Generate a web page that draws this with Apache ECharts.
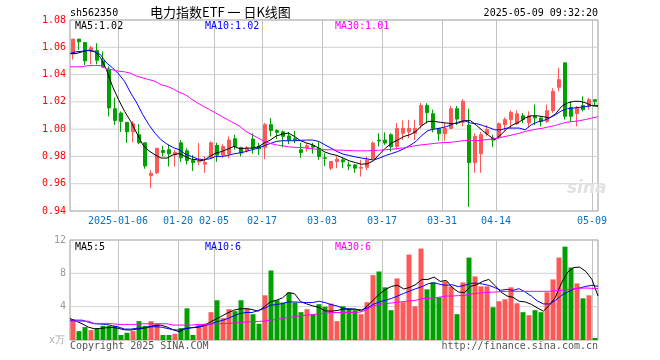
<!DOCTYPE html>
<html>
<head>
<meta charset="utf-8">
<script src="https://cdn.jsdelivr.net/npm/echarts/dist/echarts.min.js"></script>
<style>
html,body{margin:0;padding:0;background:#fff;}
#c{width:660px;height:360px;}
</style>
</head>
<body>
<div id="c"></div>
<script>
const dates = ['2024-12-24','2024-12-25','2024-12-26','2024-12-27','2024-12-30','2024-12-31','2025-01-02','2025-01-03',
'2025-01-06','2025-01-07','2025-01-08','2025-01-09','2025-01-10','2025-01-13','2025-01-14','2025-01-15','2025-01-16','2025-01-17',
'2025-01-20','2025-01-21','2025-01-22','2025-01-23','2025-01-24','2025-01-27',
'2025-02-05','2025-02-06','2025-02-07','2025-02-10','2025-02-11','2025-02-12','2025-02-13','2025-02-14',
'2025-02-17','2025-02-18','2025-02-19','2025-02-20','2025-02-21','2025-02-24','2025-02-25','2025-02-26','2025-02-27','2025-02-28',
'2025-03-03','2025-03-04','2025-03-05','2025-03-06','2025-03-07','2025-03-10','2025-03-11','2025-03-12','2025-03-13','2025-03-14',
'2025-03-17','2025-03-18','2025-03-19','2025-03-20','2025-03-21','2025-03-24','2025-03-25','2025-03-26','2025-03-27','2025-03-28',
'2025-03-31','2025-04-01','2025-04-02','2025-04-03','2025-04-07','2025-04-08','2025-04-09','2025-04-10','2025-04-11',
'2025-04-14','2025-04-15','2025-04-16','2025-04-17','2025-04-18','2025-04-21','2025-04-22','2025-04-23','2025-04-24','2025-04-25',
'2025-04-28','2025-04-29','2025-04-30','2025-05-06','2025-05-07','2025-05-08','2025-05-09'];

const openP = [1.055,1.066,1.0635,1.058,1.0576,1.050,1.044,1.015,1.0118,1.005,
0.998,0.9959,0.990,0.966,0.968,0.9843,0.9849,0.9812,0.990,0.9841,
0.977,0.976,0.9743,0.979,0.988,0.981,0.9817,0.993,0.9866,0.9843,
0.9927,0.9873,0.9866,1.0033,0.999,0.998,0.995,0.993,0.9849,0.9866,
0.988,0.986,0.979,0.9714,0.9763,0.9775,0.9738,0.9738,0.9714,0.9721,
0.978,0.992,0.992,0.9959,0.9873,0.997,0.998,0.997,1.003,1.0173,
1.0113,1.0005,0.9966,1.0005,1.015,1.005,1.003,0.9755,0.982,0.9966,
0.9935,0.994,1.0033,1.007,1.004,1.0098,1.0045,1.0094,1.0082,1.0057,
1.0135,1.0307,1.0486,1.016,1.0113,1.0173,1.0167,1.0216];
const closeP = [1.066,1.064,1.050,1.0596,1.0505,1.0457,1.0155,1.0064,1.0057,0.998,
1.004,0.990,0.973,0.9677,0.986,0.9828,0.9819,0.9829,0.979,0.977,
0.9755,0.9768,0.9755,0.990,0.981,0.9873,0.992,0.9873,0.9825,0.986,
0.986,0.9856,1.0033,0.999,0.9977,0.9947,0.992,0.992,0.9829,0.9878,
0.9868,0.980,0.9787,0.9763,0.978,0.976,0.973,0.9714,0.972,0.9775,
0.9898,0.9913,0.9898,0.9873,1.0005,1.0005,1.0005,1.0005,1.0173,1.012,
1.0005,0.9966,1.0005,1.015,1.0074,1.0204,0.9755,0.9947,0.9959,0.9995,
0.992,1.004,1.007,1.0123,1.0113,1.007,1.0098,1.0082,1.0057,1.0135,
1.0277,1.0363,1.0094,1.0094,1.016,1.0143,1.0216,1.0204];
const lowP = [1.051,1.058,1.047,1.0475,1.0475,1.045,1.0093,1.003,0.998,0.990,
0.9905,0.989,0.971,0.9567,0.967,0.980,0.9726,0.9726,0.976,0.974,
0.9694,0.9738,0.968,0.978,0.976,0.979,0.9787,0.9849,0.980,0.983,
0.982,0.981,0.978,0.9947,0.9927,0.9866,0.989,0.9898,0.979,0.9836,
0.982,0.9775,0.973,0.970,0.9714,0.9714,0.970,0.968,0.9652,0.970,
0.978,0.9873,0.9885,0.9836,0.9849,0.992,0.9934,0.992,1.0005,1.004,
0.9976,0.9915,0.9915,1.000,1.003,1.002,0.943,0.968,0.968,0.9947,
0.9868,0.993,0.999,1.0005,1.003,1.0045,1.0012,1.003,1.002,1.0045,
1.012,1.0277,1.007,1.006,1.002,1.013,1.0143,1.0167];
const highP = [1.066,1.066,1.064,1.061,1.063,1.057,1.046,1.023,1.013,1.005,
1.006,1.0037,0.990,0.970,0.986,0.9878,0.9885,0.9849,0.992,0.986,
0.981,0.9898,0.980,0.991,0.990,0.989,0.9947,0.9959,0.987,0.9875,
0.997,0.990,1.0045,1.008,1.000,0.999,0.998,0.9988,0.990,0.9898,
0.990,0.991,0.9824,0.9765,0.980,0.979,0.9763,0.9745,0.9775,0.980,
0.991,0.997,0.9976,0.997,1.0045,1.0064,1.0069,1.0069,1.0192,1.019,
1.0143,1.0005,1.0045,1.017,1.017,1.022,1.015,0.997,0.998,1.003,
0.9959,1.005,1.0086,1.0138,1.0138,1.0118,1.013,1.018,1.0085,1.018,
1.030,1.045,1.0486,1.0204,1.017,1.024,1.0229,1.0216];

const ma5 = [1.0554,1.0554,1.0567,1.0579,1.0571,1.0527,1.0437,1.0314,1.0216,1.013,
1.0057,0.9971,0.9885,0.9841,0.9812,0.9788,0.9788,0.9812,0.9821,0.980,
0.978,0.9775,0.9768,0.980,0.9824,0.9836,0.9854,0.9873,0.9856,0.9861,
0.9861,0.987,0.9898,0.992,0.995,0.9964,0.9971,0.9946,0.9915,0.9898,
0.9885,0.9861,0.9832,0.9817,0.9807,0.9788,0.9768,0.9755,0.9743,0.9746,
0.9768,0.9817,0.9861,0.9898,0.992,0.9946,0.9959,0.9983,1.0027,1.0057,
1.0057,1.005,1.0045,1.004,1.0045,1.0062,1.0062,1.0027,0.9988,0.9954,
0.9922,0.9959,1.0003,1.0032,1.0052,1.0082,1.0098,1.0098,1.0091,1.0082,
1.0111,1.0167,1.0192,1.0204,1.0204,1.0192,1.0172,1.0167];
const ma10 = [1.0554,1.0567,1.0571,1.0576,1.0567,1.0547,1.0486,1.045,1.0405,1.035,
1.0265,1.0192,1.0106,1.0032,0.9971,0.9922,0.989,0.9865,0.9849,0.9817,
0.980,0.9782,0.9777,0.9782,0.980,0.980,0.9807,0.9819,0.9826,0.9836,
0.9849,0.9861,0.9878,0.9895,0.991,0.9915,0.9915,0.9915,0.9918,0.992,
0.992,0.991,0.9885,0.9861,0.9836,0.9817,0.9807,0.9797,0.9788,0.9782,
0.9773,0.9788,0.9807,0.9821,0.9836,0.9856,0.988,0.991,0.9955,0.999,
1.0,1.0008,1.0018,1.0035,1.0052,1.0062,1.0045,1.004,1.0027,1.0012,
0.9995,0.9995,1.0008,1.0008,1.0008,0.9995,1.0032,1.0052,1.0062,1.0082,
1.0106,1.0135,1.015,1.0155,1.016,1.0165,1.0174,1.0174];
const ma30 = [1.0457,1.0457,1.0457,1.0466,1.0466,1.0466,1.0442,1.0435,1.0425,1.042,
1.041,1.0388,1.0376,1.0363,1.0351,1.0326,1.0314,1.0295,1.027,1.0253,
1.0221,1.0192,1.0167,1.0143,1.0118,1.0093,1.0069,1.0045,1.002,0.9983,
0.9959,0.9935,0.991,0.9895,0.9885,0.9878,0.9871,0.9866,0.9866,0.9861,
0.9856,0.9851,0.9849,0.9849,0.9846,0.9846,0.9843,0.9841,0.9841,0.9841,
0.9843,0.9846,0.9849,0.9853,0.9858,0.9863,0.9871,0.988,0.9885,0.989,
0.9895,0.99,0.9902,0.9905,0.991,0.9917,0.9915,0.9915,0.992,0.9925,
0.993,0.9939,0.9949,0.9959,0.9969,0.9983,0.9992,1.0001,1.0008,1.0018,
1.0027,1.0041,1.0052,1.0057,1.0062,1.0071,1.0082,1.0091];

const vol = [2.46,1.07,1.55,1.19,1.39,1.7,1.7,1.7,0.6,0.87,
1.07,2.26,1.7,2.26,1.95,0.6,0.6,0.75,1.43,3.8,
0.6,1.9,1.95,3.34,4.77,2.62,3.7,3.46,4.77,3.8,
3.1,1.95,5.36,8.34,4.77,4.5,5.7,4.5,3.34,3.7,
3.1,4.3,4.0,4.37,2.26,4.05,3.77,3.58,3.1,4.53,
7.79,8.22,6.32,3.58,7.39,4.53,10.25,4.05,10.97,6.08,
6.91,5.13,7.03,6.44,3.1,6.91,9.89,7.63,6.44,6.44,
3.93,4.65,4.89,6.32,4.41,3.34,2.98,3.58,3.34,5.72,
7.27,9.89,11.2,8.7,6.79,5.0,5.36,0.24];
const vma5 = [2.58,2.26,1.95,1.55,1.35,1.39,1.47,1.51,1.39,1.23,
1.19,1.31,1.39,1.55,1.75,1.79,1.55,1.23,0.99,1.35,
1.47,1.51,1.71,2.1,2.5,2.86,3.26,3.58,3.73,3.77,
3.66,3.46,3.97,4.57,4.77,5.05,5.68,5.56,4.61,4.33,
4.09,3.93,3.5,3.46,3.54,3.7,3.73,3.7,3.46,4.09,
4.81,5.52,6.08,6.44,6.56,6.12,6.32,6.67,7.27,7.27,
7.55,7.03,7.15,6.28,5.76,5.68,6.44,6.63,7.03,7.27,
6.56,5.76,5.28,5.12,4.65,4.57,4.29,3.85,3.46,4.17,
5.16,6.87,8.14,8.7,8.74,8.22,7.27,5.28];
const vma10 = [2.38,2.38,2.38,2.15,1.95,1.91,1.87,1.71,1.55,1.31,
1.31,1.39,1.47,1.59,1.59,1.55,1.39,1.23,1.19,1.39,
1.47,1.59,1.71,1.87,2.15,2.34,2.58,2.9,3.18,3.3,
3.3,3.54,3.77,4.17,4.25,4.37,4.57,4.57,4.53,4.49,
4.49,4.65,4.5,4.25,4.09,3.81,3.7,3.7,3.62,3.85,
4.29,4.57,4.77,5.0,5.28,5.6,5.88,6.16,6.4,6.75,
6.87,6.67,6.56,6.63,6.4,6.56,6.79,6.83,6.71,6.56,
6.28,5.96,6.08,5.96,6.16,5.76,5.28,4.69,4.33,4.33,
4.77,5.36,5.76,6.12,6.24,6.44,6.56,6.44];
const vma30 = [2.26,2.26,2.26,2.26,1.99,1.99,1.99,1.95,1.87,1.87,
1.87,1.87,1.95,1.95,1.95,1.95,1.95,1.79,1.79,1.79,
1.79,1.87,1.87,1.91,1.95,1.95,1.99,2.03,2.1,2.15,
2.19,2.23,2.26,2.38,2.46,2.58,2.7,2.78,2.9,2.98,
3.06,3.14,3.22,3.3,3.3,3.3,3.3,3.3,3.38,3.7,
4.09,4.29,4.37,4.45,4.53,4.61,4.69,4.77,4.97,5.0,
5.05,5.16,5.28,5.28,5.32,5.36,5.48,5.6,5.68,5.72,
5.76,5.8,5.84,5.84,5.84,5.84,5.84,5.84,5.84,5.84,
5.92,5.96,6.04,6.16,6.2,6.24,6.2,6.16];

const tickDates = ['2025-01-06','2025-01-20','2025-02-05','2025-02-17','2025-03-03','2025-03-17','2025-03-31','2025-04-14','2025-05-09'];
const tickLabels = ['2025-01-06','01-20','02-05','02-17','03-03','03-17','03-31','04-14','05-09'];
const priceTicks = {min:0.94, max:1.08, interval:0.02};
const volTicks = {min:0, max:12, interval:4};

const RED = '#ff5858', GREEN = '#00a000';
const HGRID = '#d2d2d2', VGRID = '#c2c2c2';
const MONO = '"DejaVu Sans Mono", monospace';
const N = dates.length;
const tickIdx = tickDates.map(d => dates.indexOf(d));
const levels = t => { const out = []; for (let k = 1; t.min + k * t.interval < t.max - 1e-9; k++) out.push(+(t.min + k * t.interval).toFixed(4)); return out; };

const chart = echarts.init(document.getElementById('c'), null, {renderer:'canvas'});
const last = a => a[a.length-1];
const txt = (text, pos, color, size, family) => Object.assign({
  text, padding:0,
  textStyle:{fontFamily: family || MONO, fontSize: size || 10, fontWeight:'normal', color: color || '#000', lineHeight: (size||10)+2}
}, pos);
const isTick = (i, v) => tickDates.indexOf(v) >= 0;

// guide lines drawn as plain two-point line series through the library's own axes
const guide = (xi, yi, pts, color) => ({type:'line', xAxisIndex:xi, yAxisIndex:yi, z:1, data:pts, showSymbol:false, silent:true,
  animation:false, lineStyle:{color:color, width:1}});
const guides = [];
levels(priceTicks).forEach(v => guides.push(guide(4, 0, [[0, v], [N, v]], HGRID)));
levels(volTicks).forEach(v => guides.push(guide(5, 1, [[0, v], [N, v]], HGRID)));
tickIdx.forEach(k => {
  guides.push(guide(4, 0, [[k, priceTicks.min], [k, priceTicks.max]], VGRID));
  guides.push(guide(5, 1, [[k, volTicks.min], [k, volTicks.max]], VGRID));
});

chart.setOption({
  animation:false,
  title:[
    txt('sh562350', {left:70, top:7}),
    txt('电力指数ETF 一 日K线图', {left:150, top:5}, '#000', 13, '"Noto Sans CJK SC", sans-serif'),
    txt('2025-05-09 09:32:20', {right:62, top:7}),
    txt('MA5:' + last(ma5).toFixed(2), {left:75, top:20}, '#000'),
    txt('MA10:' + last(ma10).toFixed(2), {left:205, top:20}, '#0000ff'),
    txt('MA30:' + last(ma30).toFixed(2), {left:335, top:20}, '#ff00ff'),
    txt('MA5:' + Math.round(last(vma5)), {left:75, top:241}, '#000'),
    txt('MA10:' + Math.round(last(vma10)), {left:205, top:241}, '#0000ff'),
    txt('MA30:' + Math.round(last(vma30)), {left:335, top:241}, '#ff00ff'),
    txt('x万', {left:49, top:334}, '#aaa'),
    txt('Copyright 2025 SINA.COM', {left:70, top:340}, '#555'),
    txt('http://finance.sina.com.cn', {right:62, top:340}, '#555'),
    {text:'sina', left:567, top:180, padding:0, textStyle:{fontFamily:'"DejaVu Sans", sans-serif', fontStyle:'italic', fontWeight:'bold', fontSize:17, color:'#e2e2e2'}}
  ],
  grid:[
    {left:70, top:20, width:528, height:191, show:true, borderColor:'#999', borderWidth:1},
    {left:70, top:240, width:528, height:100, show:true, borderColor:'#999', borderWidth:1}
  ],
  xAxis:[
    {type:'category', gridIndex:0, data:dates, boundaryGap:true,
     axisLine:{show:false}, axisTick:{show:false},
     axisLabel:{interval:isTick, formatter:v => tickLabels[tickDates.indexOf(v)] || '', color:'#0a70c0', fontFamily:MONO, fontSize:10, margin:5, padding:[0,6,0,0]},
     splitLine:{show:false}},
    {type:'category', gridIndex:1, data:dates, boundaryGap:true,
     axisLine:{show:false}, axisTick:{show:false}, axisLabel:{show:false}, splitLine:{show:false}},
    {type:'value', gridIndex:0, min:0, max:N-1, show:false, splitLine:{show:false}},
    {type:'value', gridIndex:1, min:0, max:N-1, show:false, splitLine:{show:false}},
    {type:'value', gridIndex:0, min:-1/12, max:N-1/12, show:false, splitLine:{show:false}},
    {type:'value', gridIndex:1, min:-1/12, max:N-1/12, show:false, splitLine:{show:false}}
  ],
  yAxis:[
    {type:'value', gridIndex:0, min:priceTicks.min, max:priceTicks.max, interval:priceTicks.interval,
     axisLine:{show:false}, axisTick:{show:false},
     axisLabel:{color:'#ff0000', fontFamily:MONO, fontSize:10, margin:4, formatter:v => v.toFixed(2)},
     splitLine:{show:false}},
    {type:'value', gridIndex:1, min:volTicks.min, max:volTicks.max, interval:volTicks.interval,
     axisLine:{show:false}, axisTick:{show:false},
     axisLabel:{color:'#999', fontFamily:MONO, fontSize:10, margin:4, formatter:v => v === 0 ? '' : String(v)},
     splitLine:{show:false}}
  ],
  series: guides.concat([
    {type:'candlestick', xAxisIndex:0, yAxisIndex:0, barWidth:4, z:8,
     data: dates.map((d,i) => [openP[i], closeP[i], lowP[i], highP[i]]),
     itemStyle:{color:RED, color0:GREEN, borderColor:RED, borderColor0:GREEN, borderWidth:1}},
    {type:'line', xAxisIndex:2, yAxisIndex:0, z:9, data:ma5.map((v,i)=>[i,v]), showSymbol:false, silent:true, lineStyle:{color:'#000', width:1}},
    {type:'line', xAxisIndex:2, yAxisIndex:0, z:9, data:ma10.map((v,i)=>[i,v]), showSymbol:false, silent:true, lineStyle:{color:'#0000ff', width:1}},
    {type:'line', xAxisIndex:2, yAxisIndex:0, z:9, data:ma30.map((v,i)=>[i,v]), showSymbol:false, silent:true, lineStyle:{color:'#ff00ff', width:1}},
    {type:'bar', xAxisIndex:1, yAxisIndex:1, barWidth:5, z:8, data:vol,
     itemStyle:{color:p => closeP[p.dataIndex] >= openP[p.dataIndex] ? RED : GREEN}},
    {type:'line', xAxisIndex:3, yAxisIndex:1, z:9, data:vma5.map((v,i)=>[i,v]), showSymbol:false, silent:true, lineStyle:{color:'#000', width:1}},
    {type:'line', xAxisIndex:3, yAxisIndex:1, z:9, data:vma10.map((v,i)=>[i,v]), showSymbol:false, silent:true, lineStyle:{color:'#0000ff', width:1}},
    {type:'line', xAxisIndex:3, yAxisIndex:1, z:9, data:vma30.map((v,i)=>[i,v]), showSymbol:false, silent:true, lineStyle:{color:'#ff00ff', width:1}}
  ])
});
</script>
</body>
</html>
